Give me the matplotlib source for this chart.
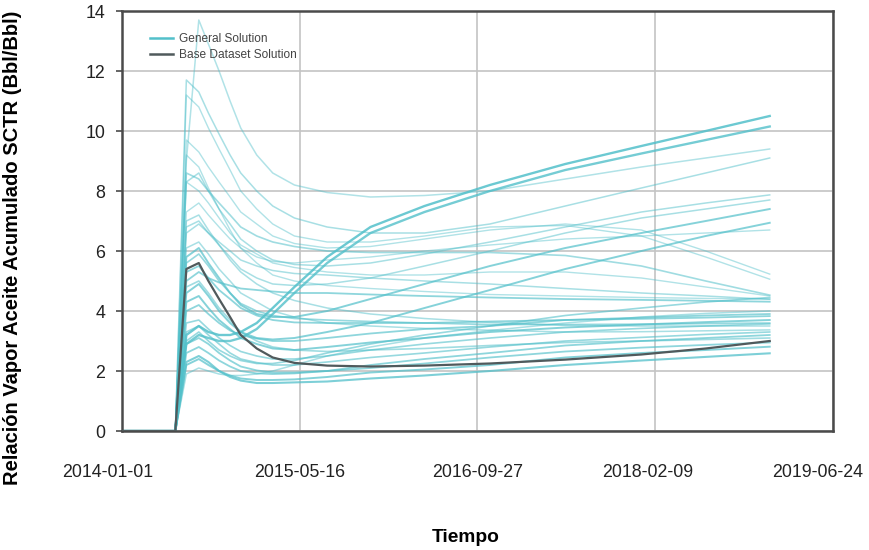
import matplotlib
matplotlib.use("Agg")
import matplotlib.pyplot as plt
import matplotlib.dates as mdates
import matplotlib.transforms as mtransforms
import pandas as pd

# Simulation output dates (shared by every run)
dates = pd.to_datetime([
    "2014-01-01", "2014-05-31", "2014-07-01", "2014-08-05", "2014-09-01",
    "2014-10-01", "2014-11-01", "2014-12-01", "2015-01-15", "2015-03-01",
    "2015-05-01", "2015-08-01", "2015-12-01", "2016-05-01", "2016-11-01",
    "2017-06-01", "2018-01-01", "2018-07-01", "2018-12-28",
])

# Base dataset solution (cumulative SOR)
base_solution = [0, 0, 5.4, 5.6, 5.0, 4.4, 3.8, 3.2, 2.75, 2.45, 2.27, 2.18,
                 2.15, 2.18, 2.25, 2.38, 2.55, 2.75, 3.0]

# General solutions (one list per run)
gen_01 = [0, 0, 9.0, 13.7, 12.9, 12.0, 11.0, 10.1, 9.2, 8.6, 8.2, 7.95, 7.8, 7.85, 8.0, 8.4, 8.8, 9.1, 9.4]
gen_02 = [0, 0, 11.7, 11.3, 10.6, 9.9, 9.2, 8.6, 8.0, 7.5, 7.1, 6.8, 6.6, 6.6, 6.9, 7.5, 8.1, 8.6, 9.1]
gen_03 = [0, 0, 3.2, 3.5, 3.3, 3.2, 3.2, 3.3, 3.6, 4.1, 4.8, 5.8, 6.8, 7.5, 8.2, 8.9, 9.5, 10.0, 10.5]
gen_04 = [0, 0, 2.9, 3.2, 3.1, 3.0, 3.0, 3.1, 3.4, 3.9, 4.6, 5.6, 6.6, 7.3, 8.0, 8.7, 9.25, 9.7, 10.15]
gen_05 = [0, 0, 8.3, 8.6, 8.0, 7.4, 6.9, 6.4, 6.0, 5.7, 5.55, 5.5, 5.6, 5.9, 6.3, 6.8, 7.3, 7.6, 7.87]
gen_06 = [0, 0, 6.8, 7.0, 6.6, 6.2, 5.8, 5.4, 5.1, 4.9, 4.85, 4.9, 5.1, 5.5, 6.0, 6.6, 7.1, 7.4, 7.7]
gen_07 = [0, 0, 5.8, 6.1, 5.6, 5.1, 4.6, 4.2, 3.9, 3.8, 3.8, 4.0, 4.4, 4.9, 5.5, 6.1, 6.6, 7.0, 7.4]
gen_08 = [0, 0, 4.6, 4.9, 4.5, 4.0, 3.6, 3.3, 3.1, 3.05, 3.1, 3.3, 3.6, 4.1, 4.7, 5.4, 6.0, 6.5, 6.94]
gen_09 = [0, 0, 7.3, 7.6, 7.2, 6.8, 6.4, 6.1, 5.8, 5.65, 5.6, 5.7, 5.8, 6.0, 6.2, 6.4, 6.5, 6.6, 6.7]
gen_10 = [0, 0, 9.7, 9.3, 8.8, 8.3, 7.8, 7.3, 6.9, 6.5, 6.25, 6.1, 6.15, 6.4, 6.7, 6.9, 6.7, 6.0, 5.23]
gen_11 = [0, 0, 11.2, 10.8, 10.1, 9.4, 8.7, 8.0, 7.4, 6.9, 6.5, 6.3, 6.3, 6.5, 6.8, 6.85, 6.5, 5.8, 5.06]
gen_12 = [0, 0, 8.6, 8.4, 8.0, 7.6, 7.2, 6.8, 6.5, 6.3, 6.15, 6.0, 5.95, 5.95, 5.95, 5.85, 5.5, 5.0, 4.53]
gen_13 = [0, 0, 6.6, 6.9, 6.6, 6.3, 6.0, 5.7, 5.5, 5.35, 5.25, 5.2, 5.1, 5.0, 4.9, 4.75, 4.6, 4.5, 4.39]
gen_14 = [0, 0, 5.0, 5.3, 5.1, 4.95, 4.85, 4.75, 4.7, 4.65, 4.6, 4.6, 4.55, 4.5, 4.45, 4.4, 4.37, 4.34, 4.31]
gen_15 = [0, 0, 3.0, 3.3, 3.0, 2.7, 2.5, 2.35, 2.25, 2.25, 2.35, 2.6, 2.9, 3.2, 3.5, 3.85, 4.1, 4.3, 4.45]
gen_16 = [0, 0, 5.3, 5.5, 5.1, 4.7, 4.4, 4.1, 3.85, 3.7, 3.62, 3.6, 3.6, 3.6, 3.65, 3.7, 3.74, 3.78, 3.83]
gen_17 = [0, 0, 4.3, 4.5, 4.1, 3.7, 3.4, 3.1, 2.9, 2.75, 2.7, 2.8, 2.95, 3.1, 3.3, 3.45, 3.55, 3.63, 3.7]
gen_18 = [0, 0, 3.6, 3.7, 3.4, 3.1, 2.85, 2.65, 2.5, 2.4, 2.4, 2.5, 2.7, 2.9, 3.1, 3.3, 3.42, 3.5, 3.57]
gen_19 = [0, 0, 6.1, 6.3, 5.9, 5.4, 5.0, 4.6, 4.3, 4.0, 3.8, 3.6, 3.5, 3.42, 3.36, 3.3, 3.31, 3.34, 3.37]
gen_20 = [0, 0, 2.6, 2.8, 2.6, 2.35, 2.15, 2.0, 1.92, 1.9, 1.92, 2.0, 2.2, 2.4, 2.6, 2.85, 3.0, 3.1, 3.2]
gen_21 = [0, 0, 2.2, 2.4, 2.2, 2.0, 1.85, 1.75, 1.7, 1.7, 1.72, 1.8, 1.95, 2.05, 2.2, 2.45, 2.6, 2.7, 2.81]
gen_22 = [0, 0, 2.3, 2.5, 2.3, 2.0, 1.8, 1.68, 1.6, 1.6, 1.62, 1.65, 1.75, 1.85, 2.0, 2.2, 2.35, 2.47, 2.59]
gen_23 = [0, 0, 7.0, 7.2, 6.7, 6.2, 5.7, 5.3, 4.9, 4.6, 4.35, 4.1, 3.9, 3.75, 3.62, 3.52, 3.5, 3.5, 3.5]
gen_24 = [0, 0, 8.3, 8.0, 7.6, 7.1, 6.6, 6.2, 5.9, 5.6, 5.45, 5.3, 5.2, 5.2, 5.3, 5.3, 5.1, 4.8, 4.5]
gen_25 = [0, 0, 4.0, 4.2, 3.9, 3.6, 3.35, 3.2, 3.08, 3.0, 3.0, 3.1, 3.25, 3.4, 3.5, 3.7, 3.78, 3.85, 3.9]
gen_26 = [0, 0, 3.3, 3.5, 3.2, 2.9, 2.6, 2.4, 2.28, 2.2, 2.2, 2.3, 2.45, 2.6, 2.8, 3.0, 3.12, 3.22, 3.3]
gen_27 = [0, 0, 2.9, 3.1, 2.9, 2.6, 2.35, 2.15, 2.02, 1.95, 1.95, 2.0, 2.1, 2.25, 2.45, 2.65, 2.78, 2.87, 2.95]
gen_28 = [0, 0, 5.6, 5.9, 5.5, 5.0, 4.6, 4.25, 4.0, 3.85, 3.75, 3.7, 3.65, 3.6, 3.55, 3.55, 3.56, 3.58, 3.6]
gen_29 = [0, 0, 9.2, 8.8, 8.1, 7.4, 6.7, 6.1, 5.6, 5.2, 5.0, 4.85, 4.75, 4.65, 4.55, 4.5, 4.45, 4.42, 4.4]
gen_30 = [0, 0, 1.9, 2.1, 2.0, 1.9, 1.85, 1.85, 1.9, 2.0, 2.2, 2.5, 2.8, 3.1, 3.35, 3.6, 3.8, 3.92, 4.0]
gen_31 = [0, 0, 4.8, 5.0, 4.6, 4.1, 3.7, 3.3, 3.0, 2.8, 2.7, 2.65, 2.7, 2.75, 2.85, 2.95, 3.0, 3.05, 3.1]

general_runs = [gen_01, gen_02, gen_03, gen_04, gen_05, gen_06, gen_07, gen_08,
                gen_09, gen_10, gen_11, gen_12, gen_13, gen_14, gen_15, gen_16,
                gen_17, gen_18, gen_19, gen_20, gen_21, gen_22, gen_23, gen_24,
                gen_25, gen_26, gen_27, gen_28, gen_29, gen_30, gen_31]

# Per-run line weight / opacity
run_widths = [1.1, 1.1, 1.7, 1.7, 1.1, 1.1, 1.4, 1.4, 1.0, 1.0, 1.0, 1.2, 1.1, 1.3,
              1.2, 1.3, 1.4, 1.2, 1.1, 1.3, 1.4, 1.5, 1.1, 1.0, 1.3, 1.2, 1.3, 1.2,
              1.0, 1.1, 1.2]
run_alphas = [0.45, 0.5, 0.85, 0.8, 0.5, 0.5, 0.7, 0.7, 0.45, 0.45, 0.45, 0.55, 0.5, 0.65,
              0.6, 0.65, 0.7, 0.6, 0.5, 0.65, 0.7, 0.75, 0.5, 0.45, 0.65, 0.6, 0.65, 0.6,
              0.45, 0.5, 0.55]

x_ticks = pd.to_datetime(["2014-01-01", "2015-05-16", "2016-09-27",
                          "2018-02-09", "2019-06-24"])
x_label_shift_px = [-14, 0, 0, -8, -15]
y_ticks = [0, 2, 4, 6, 8, 10, 12, 14]

plt.rcParams["font.family"] = ["Liberation Sans", "DejaVu Sans"]

fig = plt.figure(figsize=(8.69, 5.5), dpi=100)
ax = fig.add_axes([122 / 869, 1 - 431 / 550, (833 - 122) / 869, (431 - 11) / 550])

cyan = "#52c0ca"
for i, run in enumerate(general_runs):
    ax.plot(dates, run, color=cyan, lw=run_widths[i], alpha=run_alphas[i],
            label="General Solution" if i == 0 else None, zorder=2)
ax.plot(dates, base_solution, color="#505a5c", lw=1.6,
        label="Base Dataset Solution", zorder=3)

ax.set_xlim(x_ticks[0], x_ticks[-1])
ax.set_ylim(0, 14)
ax.set_xticks(x_ticks)
ax.xaxis.set_major_formatter(mdates.DateFormatter("%Y-%m-%d"))
ax.set_yticks(y_ticks)
ax.grid(True, color="#c4c4c4", lw=1.2)
ax.set_axisbelow(True)

for side in ["left", "bottom", "top", "right"]:
    ax.spines[side].set_color("#4a4a4a")
    ax.spines[side].set_linewidth(1.8)

ax.tick_params(axis="x", length=0, pad=24, labelsize=12.8, colors="#222222")
ax.tick_params(axis="y", length=4, width=1.2, color="#4a4a4a", pad=8,
               labelsize=12.8, labelcolor="#222222")

for lbl, dx in zip(ax.get_xticklabels(), x_label_shift_px):
    lbl.set_transform(lbl.get_transform() +
                      mtransforms.ScaledTranslation(dx / 100, 0, fig.dpi_scale_trans))

ax.set_ylabel("Relación Vapor Aceite Acumulado SCTR (Bbl/Bbl)",
              fontsize=14.5, fontweight="bold")
ax.yaxis.set_label_coords(-0.1406, 0.436)
fig.text(466 / 869, 1 - 537 / 550, "Tiempo", fontsize=13.8, fontweight="bold",
         ha="center", va="center")

leg = ax.legend(loc="upper left", bbox_to_anchor=(0.03, 0.965), frameon=False,
                fontsize=8.6, handlelength=1.9, handletextpad=0.5,
                labelspacing=0.35, borderaxespad=0.2)
for h in leg.get_lines():
    h.set_alpha(1)
    h.set_linewidth(1.8)
for t in leg.get_texts():
    t.set_color("#444444")

fig.savefig("out.png", dpi=100, facecolor="white")
